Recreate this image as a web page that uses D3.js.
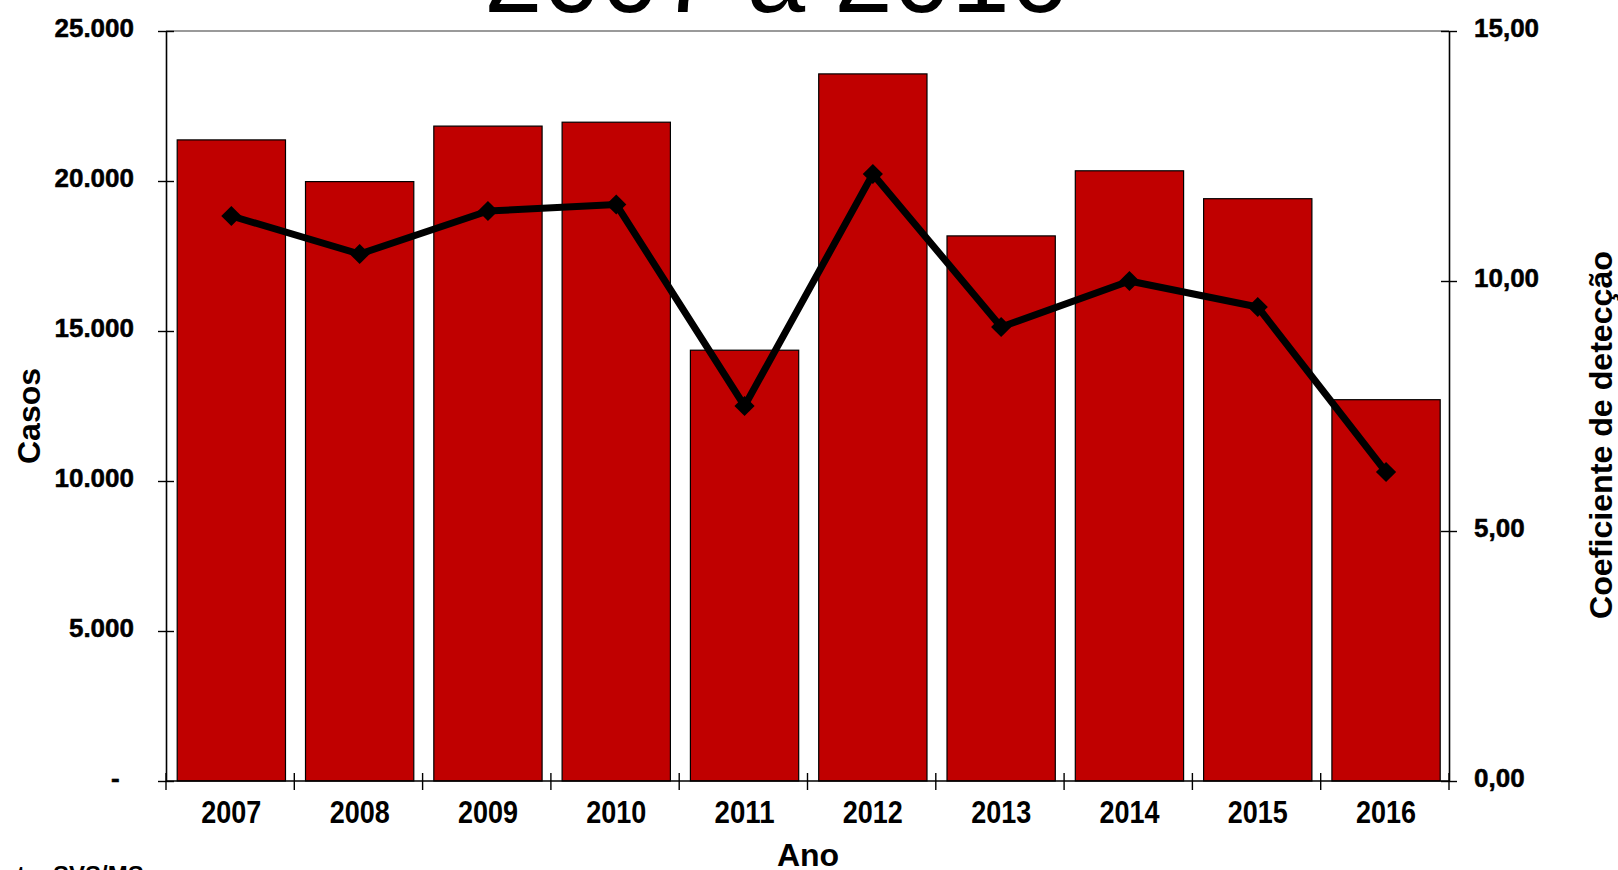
<!DOCTYPE html>
<html>
<head>
<meta charset="utf-8">
<script src="https://cdn.jsdelivr.net/npm/d3@7"></script>
<style>
  html, body { margin: 0; padding: 0; background: #fff; overflow: hidden; }
  svg { display: block; font-family: "Liberation Sans", Arial, sans-serif; }
</style>
</head>
<body>
<svg id="chart" width="1618" height="870"></svg>
<script>
// Casos notificados e coeficiente de detecção por ano
const anos = ["2007", "2008", "2009", "2010", "2011", "2012", "2013", "2014", "2015", "2016"];
const casos = [21370, 19980, 21830, 21960, 14360, 23570, 18170, 20340, 19410, 12710];
const coeficiente = [11.30, 10.54, 11.40, 11.53, 7.50, 12.14, 9.08, 10.00, 9.48, 6.18];
const ticksCasos = [0, 5000, 10000, 15000, 20000, 25000];
const ticksCoef = [0, 5, 10, 15];

const ptBR = d3.formatLocale({ decimal: ",", thousands: ".", grouping: [3], currency: ["R$", ""] });
const fmtCasos = ptBR.format(",.0f");
const fmtCoef = ptBR.format(",.2f");

const svg = d3.select("#chart");
const m = { left: 166, right: 1449, top: 31, bottom: 781 };

const x = d3.scaleBand().domain(anos).range([m.left, m.right])
  .paddingInner(0.156).paddingOuter(0.078).align(0.56);
const yL = d3.scaleLinear().domain([0, 25000]).range([m.bottom, m.top]);
const yR = d3.scaleLinear().domain([0, 15]).range([m.bottom, m.top]);

// Título (parcialmente acima da área visível)
svg.append("text")
  .attr("x", 776).attr("y", 12)
  .attr("text-anchor", "middle")
  .attr("font-size", 105)
  .attr("fill", "#000")
  .text("2007 a 2016");

// Borda superior da área de plotagem
svg.append("line")
  .attr("x1", m.left).attr("x2", m.right)
  .attr("y1", m.top).attr("y2", m.top)
  .attr("stroke", "#9a9a9a").attr("stroke-width", 2);

// Barras
svg.append("g").selectAll("rect")
  .data(anos)
  .join("rect")
  .attr("x", d => x(d))
  .attr("width", x.bandwidth())
  .attr("y", (d, i) => yL(casos[i]))
  .attr("height", (d, i) => yL(0) - yL(casos[i]))
  .attr("fill", "#C00000")
  .attr("stroke", "#000")
  .attr("stroke-width", 1.2);

// Linha do coeficiente
const pts = anos.map((d, i) => [x(d) + x.bandwidth() / 2, yR(coeficiente[i])]);
svg.append("path")
  .datum(pts)
  .attr("d", d3.line())
  .attr("fill", "none")
  .attr("stroke", "#000")
  .attr("stroke-width", 7)
  .attr("stroke-linejoin", "round");

svg.append("g").selectAll("path")
  .data(pts)
  .join("path")
  .attr("transform", d => `translate(${d[0]},${d[1]})`)
  .attr("d", d3.symbol(d3.symbolDiamond2, 260))
  .attr("fill", "#000");

// Eixo esquerdo (casos)
const gL = svg.append("g")
  .attr("transform", `translate(${m.left},0)`)
  .call(d3.axisLeft(yL).tickValues(ticksCasos).tickSizeInner(8).tickSizeOuter(0).tickPadding(24)
    .tickFormat(d => d === 0 ? "-\u00a0\u00a0" : fmtCasos(d)));
gL.select(".domain").attr("stroke", "#000").attr("stroke-width", 1.6);
gL.selectAll(".tick line").attr("x1", 8).attr("stroke-width", 1.4);
gL.selectAll(".tick text").attr("font-size", 26).attr("font-weight", "bold")
  .attr("font-family", "\"Liberation Sans\", Arial, sans-serif").attr("fill", "#000")
  .attr("stroke", "#000").attr("stroke-width", 0.5)
  .attr("dy", "0.22em");

// Eixo direito (coeficiente)
const gR = svg.append("g")
  .attr("transform", `translate(${m.right},0)`)
  .call(d3.axisRight(yR).tickValues(ticksCoef).tickSizeInner(8).tickSizeOuter(0).tickPadding(17)
    .tickFormat(fmtCoef));
gR.select(".domain").attr("stroke", "#000").attr("stroke-width", 1.6);
gR.selectAll(".tick line").attr("x1", -8).attr("stroke-width", 1.4);
gR.selectAll(".tick text").attr("font-size", 26).attr("font-weight", "bold")
  .attr("font-family", "\"Liberation Sans\", Arial, sans-serif").attr("fill", "#000")
  .attr("stroke", "#000").attr("stroke-width", 0.5)
  .attr("dy", "0.22em");

// Eixo inferior (anos)
const gB = svg.append("g")
  .attr("transform", `translate(0,${m.bottom})`)
  .call(d3.axisBottom(x).tickSize(0).tickPadding(20));
gB.select(".domain").remove();
gB.selectAll(".tick text")
  .attr("font-size", 31).attr("font-weight", "bold")
  .attr("font-family", "\"Liberation Sans\", Arial, sans-serif").attr("fill", "#000")
  .attr("textLength", 60).attr("lengthAdjust", "spacingAndGlyphs");

gB.append("line")
  .attr("x1", m.left).attr("x2", m.right)
  .attr("stroke", "#000").attr("stroke-width", 1.6);

// Marcas de divisão entre categorias
const divisoes = d3.range(anos.length + 1).map(i => m.left + i * (m.right - m.left) / anos.length);
gB.selectAll("line.div")
  .data(divisoes)
  .join("line")
  .attr("class", "div")
  .attr("x1", d => d).attr("x2", d => d)
  .attr("y1", -8).attr("y2", 9)
  .attr("stroke", "#000").attr("stroke-width", 1.4);

// Títulos dos eixos
svg.append("text")
  .attr("x", 808).attr("y", 866)
  .attr("text-anchor", "middle")
  .attr("font-size", 32).attr("font-weight", "bold")
  .text("Ano");

svg.append("text")
  .attr("transform", "translate(40,416) rotate(-90)")
  .attr("text-anchor", "middle")
  .attr("font-size", 31).attr("font-weight", "bold")
  .attr("textLength", 96).attr("lengthAdjust", "spacingAndGlyphs")
  .text("Casos");

svg.append("text")
  .attr("transform", "translate(1612,435) rotate(-90)")
  .attr("text-anchor", "middle")
  .attr("font-size", 31).attr("font-weight", "bold")
  .attr("textLength", 368).attr("lengthAdjust", "spacingAndGlyphs")
  .text("Coeficiente de detecção");

// Fonte
svg.append("text")
  .attr("x", -27).attr("y", 883)
  .attr("font-size", 24).attr("font-weight", "bold")
  .text("Fonte: SVS/MS");
</script>
</body>
</html>
